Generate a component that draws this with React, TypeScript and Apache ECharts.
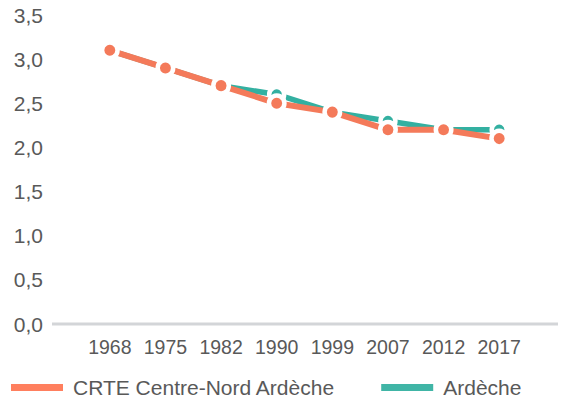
import React, { useEffect, useRef } from "react";
import * as echarts from "echarts";

const years = ["1968", "1975", "1982", "1990", "1999", "2007", "2012", "2017"];
const crteValues = [3.1, 2.9, 2.7, 2.5, 2.4, 2.2, 2.2, 2.1];
const ardecheValues = [3.1, 2.9, 2.7, 2.6, 2.4, 2.3, 2.2, 2.2];
const seriesNames = ["CRTE Centre-Nord Ardèche", "Ardèche"];

const ORANGE = "#F47A5A";
const TEAL = "#33B0A1";
const FONT = "Arial";

export default function App() {
  const ref = useRef<HTMLDivElement>(null);
  useEffect(() => {
    if (!ref.current) return;
    const chart = echarts.init(ref.current, null, { renderer: "svg" });
    chart.setOption({
      animation: false,
      grid: { left: 82, right: 34, top: 15, bottom: 76 },
      graphic: [
        {
          type: "line",
          shape: { x1: 52, y1: 324, x2: 558, y2: 324 },
          style: { stroke: "#D3D5D8", lineWidth: 3 },
          z: 0,
        },
      ],
      legend: {
        left: 9,
        top: 377,
        padding: 0,
        icon: "rect",
        itemWidth: 54,
        itemHeight: 9,
        itemGap: 44,
        textStyle: { fontFamily: FONT, fontSize: 21, color: "#595959", padding: [0, 0, 0, 4] },
        data: [
          { name: seriesNames[0], itemStyle: { color: "#FF7F5E" } },
          { name: seriesNames[1], itemStyle: { color: "#40B5A6" } },
        ],
      },
      xAxis: {
        type: "category",
        data: years,
        boundaryGap: true,
        axisLine: { show: false },
        axisTick: { show: false },
        axisLabel: { interval: 0, margin: 13, fontFamily: FONT, fontSize: 19.5, color: "#595959" },
      },
      yAxis: {
        type: "value",
        min: 0,
        max: 3.5,
        interval: 0.5,
        splitLine: { show: false },
        axisLine: { show: false },
        axisTick: { show: false },
        axisLabel: {
          margin: 39,
          fontFamily: FONT,
          fontSize: 21,
          color: "#595959",
          formatter: (v: number) => v.toFixed(1).replace(".", ","),
        },
      },
      series: [
        {
          name: seriesNames[1],
          type: "line",
          data: ardecheValues,
          z: 2,
          color: TEAL,
          lineStyle: { color: TEAL, width: 5.5 },
          symbol: "circle",
          symbolSize: 15,
          itemStyle: { color: TEAL, borderColor: "#fff", borderWidth: 4.5 },
        },
        {
          name: seriesNames[0],
          type: "line",
          data: crteValues,
          z: 3,
          color: ORANGE,
          lineStyle: { color: ORANGE, width: 6 },
          symbol: "circle",
          symbolSize: 15.5,
          itemStyle: { color: ORANGE, borderColor: "#fff", borderWidth: 4.5 },
        },
      ],
    });
    return () => chart.dispose();
  }, []);
  return <div ref={ref} style={{ width: 561, height: 400, position: "absolute", left: 0, top: 0 }} />;
}
